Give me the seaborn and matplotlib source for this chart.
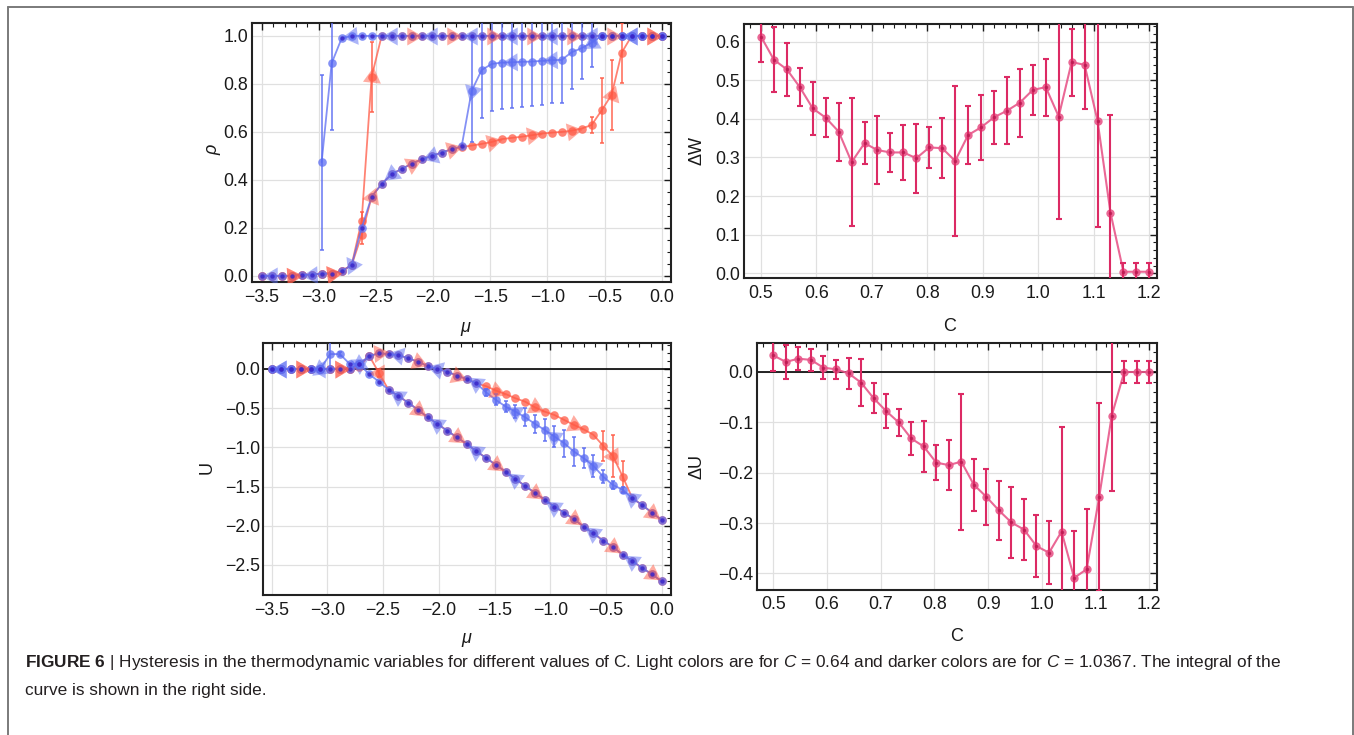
import numpy as np
import matplotlib
matplotlib.use("Agg")
import matplotlib.pyplot as plt
from matplotlib.ticker import MultipleLocator, FuncFormatter
from matplotlib.lines import Line2D
import seaborn as sns

# ---------------------------------------------------------------- data
nan = np.nan
mu = np.linspace(-3.5, 0.0, 41)

# density rho(mu): forward (increasing mu) and backward sweeps, two branches each
rho_fwd_a = [0.0, 0.0, 0.0, 0.0, 0.005, 0.005, 0.01, 0.01, 0.02, 0.045, 0.23, 0.83,
             1.0, 1.0, 1.0, 1.0, 1.0, 1.0, 1.0, 1.0, 1.0, 1.0, 1.0, 1.0, 1.0, 1.0,
             1.0, 1.0, 1.0, 1.0, 1.0, 1.0, 1.0, 1.0, 1.0, 1.0, 1.0, 1.0, 1.0, 1.0, 1.0]
rho_fwd_a_err = [0, 0, 0, 0, 0, 0, 0, 0, 0, 0, 0.035, 0.145,
                 0, 0, 0, 0, 0, 0, 0, 0, 0, 0, 0, 0, 0, 0,
                 0, 0, 0, 0, 0, 0, 0, 0, 0, 0, 0, 0, 0, 0, 0]
rho_bwd_a = [nan, nan, nan, nan, nan, nan, 0.474, 0.886, 0.99, 1.0, 1.0, 1.0,
             1.0, 1.0, 1.0, 1.0, 1.0, 1.0, 1.0, 1.0, 1.0, 1.0, 1.0, 1.0, 1.0, 1.0,
             1.0, 1.0, 1.0, 1.0, 1.0, 1.0, 1.0, 1.0, 1.0, 1.0, 1.0, 1.0, 1.0, 1.0, 1.0]
rho_bwd_a_err = [0, 0, 0, 0, 0, 0, 0.365, 0.28, 0, 0, 0, 0,
                 0, 0, 0, 0, 0, 0, 0, 0, 0, 0, 0, 0, 0, 0,
                 0, 0, 0, 0, 0, 0, 0, 0, 0, 0, 0, 0, 0, 0, 0]
rho_fwd_b = [0.0, 0.0, 0.0, 0.0, 0.005, 0.005, 0.01, 0.01, 0.02, 0.045, 0.17, 0.33,
             0.383, 0.424, 0.446, 0.467, 0.486, 0.50, 0.514, 0.528, 0.537, 0.543,
             0.55, 0.558, 0.57, 0.575, 0.58, 0.586, 0.593, 0.597, 0.60, 0.605,
             0.614, 0.629, 0.69, 0.755, 0.93, 1.0, 1.0, 1.0, 1.0]
rho_fwd_b_err = [0, 0, 0, 0, 0, 0, 0, 0, 0, 0, 0.035, 0,
                 0, 0, 0, 0, 0, 0, 0, 0, 0, 0,
                 0, 0, 0, 0, 0, 0, 0, 0, 0, 0,
                 0, 0.035, 0.135, 0.145, 0.125, 0, 0, 0, 0]
rho_bwd_b = [0.0, 0.0, 0.0, 0.0, 0.005, 0.005, 0.01, 0.01, 0.02, 0.045, 0.20, 0.33,
             0.383, 0.424, 0.446, 0.467, 0.486, 0.50, 0.514, 0.528, 0.54, 0.771,
             0.858, 0.883, 0.889, 0.89, 0.892, 0.893, 0.896, 0.899, 0.90, 0.932,
             0.949, 0.972, 1.0, 1.0, 1.0, 1.0, 1.0, 1.0, 1.0]
rho_bwd_b_err = [0, 0, 0, 0, 0, 0, 0, 0, 0, 0, 0, 0,
                 0, 0, 0, 0, 0, 0, 0, 0, 0, 0.215,
                 0.20, 0.194, 0.194, 0.19, 0.187, 0.185, 0.182, 0.179, 0.18, 0.152,
                 0.129, 0.10, 0, 0, 0, 0, 0, 0, 0]

# energy U(mu)
u_fwd_a = [0.0, 0.0, 0.0, 0.0, 0.0, 0.0, 0.0, 0.005, 0.005, 0.03, 0.17, -0.05,
           -0.268, -0.344, -0.43, -0.52, -0.616, -0.70, -0.787, -0.872, -0.957,
           -1.05, -1.135, -1.224, -1.31, -1.403, -1.492, -1.58, -1.667, -1.756,
           -1.833, -1.917, -2.01, -2.096, -2.19, -2.27, -2.37, -2.45, -2.54, -2.617, -2.71]
u_fwd_a_err = [0, 0, 0, 0, 0, 0, 0, 0, 0, 0, 0, 0.05,
               0, 0, 0, 0, 0, 0, 0, 0, 0, 0, 0, 0, 0, 0, 0, 0, 0, 0,
               0, 0, 0, 0, 0, 0, 0, 0, 0, 0, 0]
u_bwd_a = [0.0, 0.0, 0.0, 0.0, 0.0, 0.0, 0.19, 0.19, 0.064, 0.064, -0.068, -0.16,
           -0.268, -0.344, -0.43, -0.52, -0.616, -0.70, -0.787, -0.872, -0.957,
           -1.05, -1.135, -1.224, -1.31, -1.403, -1.492, -1.58, -1.667, -1.756,
           -1.833, -1.917, -2.01, -2.096, -2.19, -2.27, -2.37, -2.45, -2.54, -2.617, -2.71]
u_bwd_a_err = [0, 0, 0, 0, 0, 0, 0.16, 0.03, 0, 0, 0, 0,
               0, 0, 0, 0, 0, 0, 0, 0, 0, 0, 0, 0, 0, 0, 0, 0, 0, 0,
               0, 0, 0, 0, 0, 0, 0, 0, 0, 0, 0]
u_fwd_b = [0.0, 0.0, 0.0, 0.0, 0.0, 0.0, 0.0, 0.005, 0.005, 0.06, 0.166, 0.20,
           0.19, 0.178, 0.136, 0.093, 0.038, 0.0, -0.034, -0.085, -0.128, -0.183,
           -0.22, -0.276, -0.32, -0.374, -0.417, -0.49, -0.544, -0.587, -0.65,
           -0.714, -0.77, -0.84, -0.98, -1.11, -1.373, -1.65, -1.735, -1.833, -1.926]
u_fwd_b_err = [0, 0, 0, 0, 0, 0, 0, 0, 0, 0, 0, 0,
               0, 0, 0, 0, 0, 0, 0, 0, 0, 0,
               0, 0, 0, 0, 0, 0, 0, 0, 0,
               0, 0, 0, 0.19, 0.27, 0.20, 0, 0, 0, 0]
u_bwd_b = [0.0, 0.0, 0.0, 0.0, 0.0, 0.0, 0.0, 0.005, 0.005, 0.06, 0.166, 0.20,
           0.19, 0.178, 0.136, 0.093, 0.038, 0.0, -0.034, -0.085, -0.128, -0.183,
           -0.30, -0.395, -0.48, -0.544, -0.616, -0.70, -0.777, -0.862, -0.947,
           -1.053, -1.138, -1.236, -1.373, -1.48, -1.54, -1.65, -1.735, -1.833, -1.926]
u_bwd_b_err = [0, 0, 0, 0, 0, 0, 0, 0, 0, 0, 0, 0,
               0, 0, 0, 0, 0, 0, 0, 0, 0, 0,
               0.04, 0.07, 0.075, 0.08, 0.117, 0.117, 0.14, 0.138, 0.17,
               0.18, 0.128, 0.138, 0.08, 0.05, 0.04, 0, 0, 0, 0]

# loop integrals against the coupling C
c_vals = np.linspace(0.5, 1.2, 31)
delta_w = [0.613, 0.553, 0.528, 0.482, 0.427, 0.403, 0.367, 0.288, 0.337, 0.319,
           0.313, 0.313, 0.298, 0.326, 0.324, 0.291, 0.358, 0.378, 0.404, 0.421,
           0.442, 0.475, 0.482, 0.406, 0.547, 0.540, 0.395, 0.157, 0.004, 0.004, 0.004]
delta_w_err = [0.067, 0.084, 0.068, 0.049, 0.069, 0.051, 0.075, 0.165, 0.055, 0.088,
               0.050, 0.071, 0.089, 0.053, 0.078, 0.195, 0.075, 0.084, 0.069, 0.087,
               0.088, 0.064, 0.074, 0.265, 0.087, 0.114, 0.274, 0.254, 0.022, 0.022, 0.022]
delta_u = [0.033, 0.020, 0.0265, 0.024, 0.0086, 0.0053, -0.0026, -0.021, -0.052, -0.0775,
           -0.100, -0.132, -0.148, -0.180, -0.185, -0.178, -0.224, -0.248, -0.275, -0.299,
           -0.313, -0.346, -0.359, -0.317, -0.409, -0.392, -0.249, -0.087, 0.0, 0.0, 0.0]
delta_u_err = [0.032, 0.034, 0.023, 0.022, 0.023, 0.019, 0.031, 0.046, 0.030, 0.033,
               0.027, 0.032, 0.050, 0.034, 0.050, 0.135, 0.052, 0.056, 0.059, 0.070,
               0.060, 0.062, 0.063, 0.208, 0.093, 0.120, 0.187, 0.150, 0.021, 0.021, 0.021]

# ---------------------------------------------------------------- style
sns.set_theme(style="white")
plt.rcParams["font.family"] = ["Liberation Sans", "DejaVu Sans"]
plt.rcParams["mathtext.fontset"] = "custom"
plt.rcParams["mathtext.rm"] = "Liberation Sans"
plt.rcParams["mathtext.it"] = "Liberation Sans:italic"
plt.rcParams["mathtext.bf"] = "Liberation Sans:bold"
plt.rcParams["axes.unicode_minus"] = True

RED = "#ff5a45"
BLUE = "#5b6cf2"
DARK = "#3a26c8"
PINK_LINE = "#e8578a"
PINK = "#dc2a64"
TEXT = "#1a1a1a"

W, H = 1354, 735
fig = plt.figure(figsize=(W / 100, H / 100), dpi=100)


def add_axes_px(left, top, right, bottom):
    return fig.add_axes([left / W, 1 - bottom / H, (right - left) / W, (bottom - top) / H])


ax_rho = add_axes_px(251.7, 22.7, 670.7, 281.7)
ax_dw = add_axes_px(744.3, 24.0, 1157.3, 278.3)
ax_u = add_axes_px(263.3, 342.7, 670.7, 595.0)
ax_du = add_axes_px(757.3, 342.7, 1157.3, 590.0)


def fmt1(v, _pos):
    s = f"{v:.1f}"
    if s == "-0.0":
        s = "0.0"
    return s.replace("-", "\u2212")


def frame_style(ax, xmaj, xmin, ymaj, ymin, xlim, ylim, xpad, ypad):
    ax.set_xlim(*xlim)
    ax.set_ylim(*ylim)
    ax.xaxis.set_major_locator(MultipleLocator(xmaj))
    ax.xaxis.set_minor_locator(MultipleLocator(xmin))
    ax.yaxis.set_major_locator(MultipleLocator(ymaj))
    ax.yaxis.set_minor_locator(MultipleLocator(ymin))
    ax.xaxis.set_major_formatter(FuncFormatter(fmt1))
    ax.yaxis.set_major_formatter(FuncFormatter(fmt1))
    ax.tick_params(which="both", direction="in", top=True, right=True,
                   colors=TEXT, labelsize=12.8)
    ax.tick_params(which="major", length=5, width=1.0)
    ax.tick_params(which="minor", length=2.8, width=0.8)
    ax.tick_params(axis="x", pad=xpad)
    ax.tick_params(axis="y", pad=ypad)
    ax.grid(True, which="major", color="#e0e0e0", lw=0.9)
    ax.set_axisbelow(True)
    for sp in ax.spines.values():
        sp.set_color("#222222")
        sp.set_linewidth(1.5)


frame_style(ax_rho, 0.5, 0.1, 0.2, 0.05, (-3.587, 0.079), (-0.024, 1.055), 5.0, 2.5)
frame_style(ax_u, 0.5, 0.1, 0.5, 0.1, (-3.575, 0.081), (-2.883, 0.335), 5.0, 2.5)
frame_style(ax_dw, 0.1, 0.02, 0.1, 0.02, (0.4699, 1.2144), (-0.013, 0.6457), 4.5, 3.0)
frame_style(ax_du, 0.1, 0.02, 0.1, 0.02, (0.4702, 1.2149), (-0.4331, 0.0582), 4.5, 3.0)


def sweep(ax, vals, errs, color, backward, mark_start):
    y = np.asarray(vals, dtype=float)
    e = np.asarray(errs, dtype=float)
    ok = ~np.isnan(y)
    sns.lineplot(x=mu[ok], y=y[ok], ax=ax, color=color, lw=1.3, alpha=0.75,
                 marker="o", markersize=6.2, markeredgewidth=0, sort=False,
                 estimator=None, errorbar=None, zorder=3)
    has = e > 0
    if has.any():
        ax.errorbar(mu[has], y[has], yerr=e[has], fmt="none", ecolor=color,
                    elinewidth=1.2, capsize=1.6, capthick=1.2, alpha=0.85, zorder=3)
    # arrowheads showing the sweep direction
    pts = ax.transData.transform(np.column_stack([mu, np.nan_to_num(y)]))
    idx = np.where(ok)[0]
    for i in range(mark_start, len(mu), 4):
        if not ok[i]:
            continue
        lo = max(i - 1, idx.min())
        hi = min(i + 1, idx.max())
        d = pts[hi] - pts[lo]
        if backward:
            d = -d
        ang = np.degrees(np.arctan2(d[1], d[0]))
        ax.plot(mu[i], y[i], marker=(3, 0, ang - 90), markersize=15, color=color,
                alpha=0.5, ls="none", mew=0, zorder=4)
    return y, e, ok


def dark_points(ax, y, e, ok):
    m = ok & (e == 0)
    sns.scatterplot(x=mu[m], y=y[m], ax=ax, color=DARK, s=10, linewidth=0,
                    alpha=0.85, zorder=5)


# density panel
for vals, errs in [(rho_fwd_a, rho_fwd_a_err), (rho_fwd_b, rho_fwd_b_err)]:
    sweep(ax_rho, vals, errs, RED, False, 3)
for vals, errs in [(rho_bwd_a, rho_bwd_a_err), (rho_bwd_b, rho_bwd_b_err)]:
    y, e, ok = sweep(ax_rho, vals, errs, BLUE, True, 1)
    dark_points(ax_rho, y, e, ok)

# energy panel
ax_u.axhline(0, color="black", lw=1.2, zorder=2)
for vals, errs in [(u_fwd_a, u_fwd_a_err), (u_fwd_b, u_fwd_b_err)]:
    sweep(ax_u, vals, errs, RED, False, 3)
for vals, errs in [(u_bwd_a, u_bwd_a_err), (u_bwd_b, u_bwd_b_err)]:
    y, e, ok = sweep(ax_u, vals, errs, BLUE, True, 1)
    dark_points(ax_u, y, e, ok)


def integral_panel(ax, vals, errs):
    sns.lineplot(x=c_vals, y=vals, ax=ax, color=PINK_LINE, lw=1.5, alpha=0.9,
                 marker="o", markersize=6, markeredgewidth=0, sort=False,
                 estimator=None, errorbar=None, zorder=3)
    ax.errorbar(c_vals, vals, yerr=errs, fmt="none", ecolor=PINK, elinewidth=1.5,
                capsize=2.2, capthick=1.5, zorder=3)
    sns.scatterplot(x=c_vals, y=vals, ax=ax, color="#b8184f", s=6, linewidth=0,
                    alpha=0.8, zorder=4)


integral_panel(ax_dw, delta_w, delta_w_err)
ax_du.axhline(0, color="black", lw=1.2, zorder=2)
integral_panel(ax_du, delta_u, delta_u_err)

# axis labels
label_kw = dict(fontsize=13, color=TEXT)
for ax, text, pos, italic in [
    (ax_rho, "\u03c1", (-0.092, 0.508), True),
    (ax_u, "U", (-0.138, 0.507), False),
    (ax_dw, "\u0394W", (-0.1145, 0.5045), False),
    (ax_du, "\u0394U", (-0.1515, 0.499), False),
]:
    ax.set_ylabel(text, style="italic" if italic else "normal", **label_kw)
    ax.yaxis.set_label_coords(*pos)
    ax.yaxis.label.set_verticalalignment("center")
for ax, text, pos, italic in [
    (ax_rho, "\u03bc", (0.511, -0.175), True),
    (ax_u, "\u03bc", (0.4975, -0.174), True),
    (ax_dw, "C", (0.498, -0.1876), False),
    (ax_du, "C", (0.4985, -0.189), False),
]:
    ax.set_xlabel(text, style="italic" if italic else "normal", **label_kw)
    ax.xaxis.set_label_coords(*pos)
    ax.xaxis.label.set_verticalalignment("center")

# caption
cap_kw = dict(fontsize=12.4, color="#231f20", ha="left", va="center")
fig.text(25 / W, 1 - 663 / H,
         r"$\mathbf{FIGURE\ 6}$ | Hysteresis in the thermodynamic variables for different "
         r"values of C. Light colors are for $C$ = 0.64 and darker colors are for "
         r"$C$ = 1.0367. The integral of the", **cap_kw)
fig.text(25 / W, 1 - 690 / H, "curve is shown in the right side.", **cap_kw)

# page frame
frame_kw = dict(color="#7a7a7a", lw=1.4, transform=fig.transFigure)
fig.add_artist(Line2D([8 / W, 1353 / W], [1 - 7 / H, 1 - 7 / H], **frame_kw))
fig.add_artist(Line2D([8 / W, 8 / W], [1 - 7 / H, 0], **frame_kw))
fig.add_artist(Line2D([1352.5 / W, 1352.5 / W], [1 - 7 / H, 0], **frame_kw))

fig.savefig("out.png", dpi=100)
